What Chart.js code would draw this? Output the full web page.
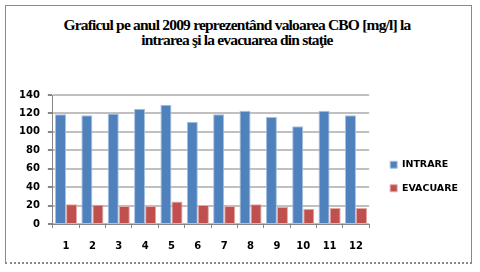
<!DOCTYPE html>
<html>
<head>
<meta charset="utf-8">
<script src="https://cdn.jsdelivr.net/npm/chart.js@4/dist/chart.umd.min.js"></script>
<style>
  html, body { margin: 0; padding: 0; background: #fff; }
  #wrap { position: relative; width: 480px; height: 272px; }
  #frame { position: absolute; left: 5px; top: 5px; width: 467px; height: 259px; border: 1px solid #8a8a8a; border-bottom: 2px dotted #8a8a8a; box-sizing: border-box; }
  #title { position: absolute; left: 0; top: 17px; width: 474px; text-align: center;
    font: bold 15.5px "Liberation Serif", serif; letter-spacing: -0.8px; line-height: 15px; color: #000; }
  canvas { position: absolute; left: 0; top: 0; }
</style>
</head>
<body>
<div id="wrap">
  <div id="frame"></div>
  <div id="title">Graficul pe anul 2009 reprezentând valoarea CBO [mg/l] la<br>intrarea şi la evacuarea din staţie</div>
  <canvas id="c" width="480" height="272"></canvas>
</div>
<script>
// months 1..12
const months = ['1','2','3','4','5','6','7','8','9','10','11','12'];
const intrare = [119, 118, 120, 125, 129.5, 111, 119, 123, 116, 106, 123, 118];
const evacuare = [21.5, 21, 19.5, 19.5, 24.5, 20.5, 19.5, 21.5, 18.5, 16.5, 17.5, 17.5];
const yTicks = [0, 20, 40, 60, 80, 100, 120, 140];

// nudge the legend to where the reference has it
const legendShift = {
  id: 'legendShift',
  afterLayout(chart) {
    const lg = chart.legend;
    if (!lg) return;
    lg.top -= 3; lg.bottom -= 3;
    lg.left += 7; lg.right += 7;
  }
};

new Chart(document.getElementById('c'), {
  type: 'bar',
  data: {
    labels: months,
    datasets: [
      { label: 'INTRARE', data: intrare, backgroundColor: '#4f81bd', borderColor: '#a9c1e0', borderWidth: 1,
        categoryPercentage: 0.84, barPercentage: 1.0 },
      { label: 'EVACUARE', data: evacuare, backgroundColor: '#c0504d', borderColor: '#e3a9a7', borderWidth: 1,
        categoryPercentage: 0.84, barPercentage: 1.0 }
    ]
  },
  options: {
    responsive: false,
    animation: false,
    layout: { padding: { top: 95, left: 11, right: 19, bottom: 8 } },
    plugins: {
      title: { display: false },
      tooltip: { enabled: false },
      legend: {
        position: 'right',
        labels: {
          boxWidth: 7, boxHeight: 7, padding: 14, color: '#000',
          font: { family: 'DejaVu Sans', weight: 'bold', size: 9.5 }
        }
      }
    },
    scales: {
      x: {
        grid: { display: true, drawOnChartArea: false, offset: true, tickLength: 4, color: '#868686' },
        border: { color: '#868686' },
        ticks: { color: '#000', padding: 12, font: { family: 'DejaVu Sans', weight: 'bold', size: 10 } }
      },
      y: {
        min: 0, max: 140,
        afterBuildTicks(axis) { axis.ticks = yTicks.map(v => ({ value: v })); },
        grid: { color: '#c0c0c0', lineWidth: 2, tickLength: 5, tickColor: '#868686' },
        border: { color: '#868686', width: 1 },
        ticks: { color: '#000', padding: 8, font: { family: 'DejaVu Sans', weight: 'bold', size: 10 } }
      }
    }
  },
  plugins: [legendShift]
});
</script>
</body>
</html>
